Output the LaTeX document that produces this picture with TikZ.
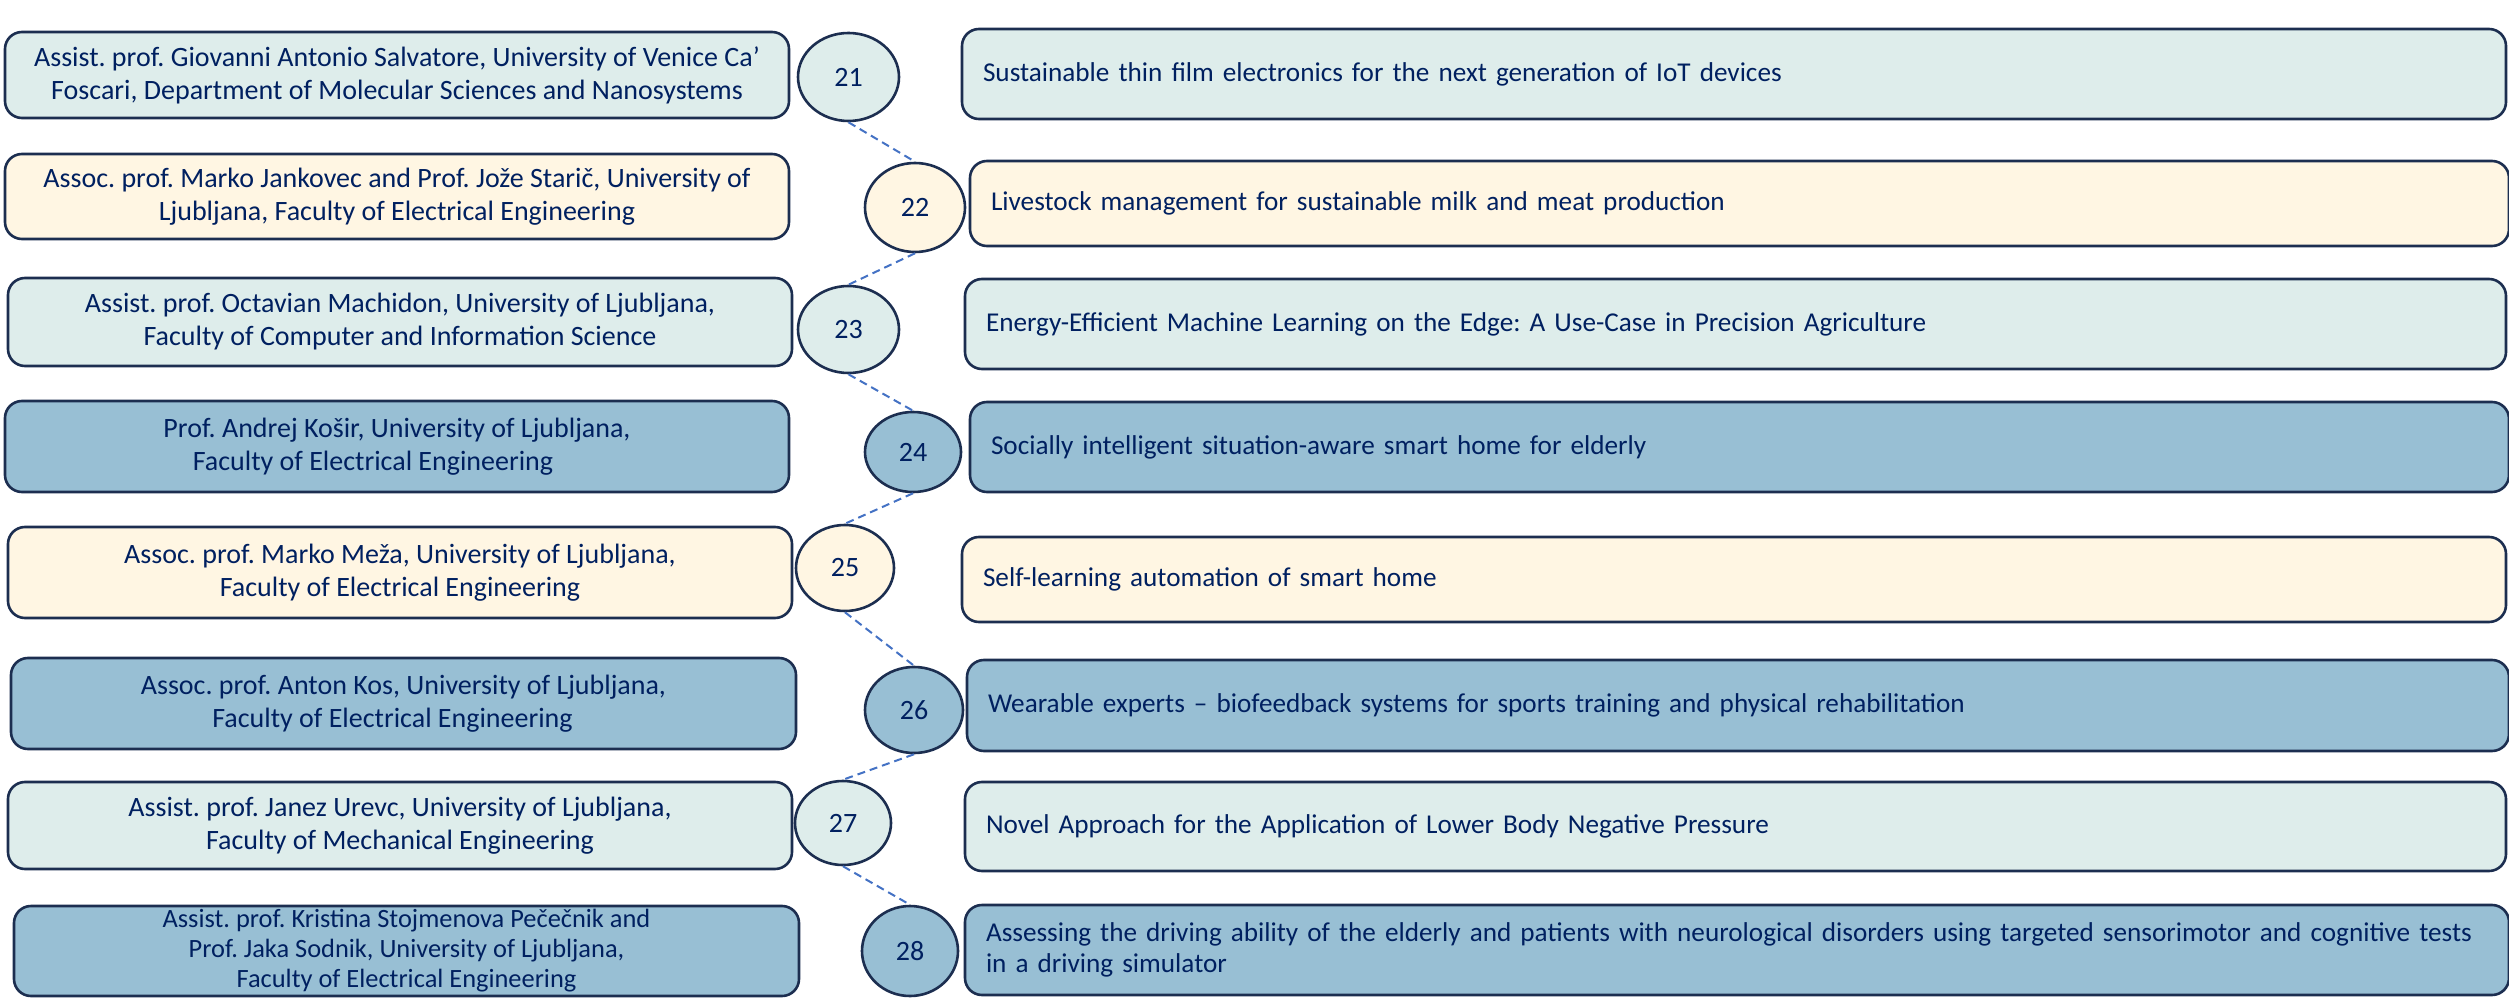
\documentclass[tikz,border=0pt]{standalone}
\usepackage{fontspec}
\setmainfont{Carlito}
\usetikzlibrary{shapes.geometric}
\definecolor{navy}{HTML}{002060}
\definecolor{edgec}{HTML}{1C2E50}
\definecolor{fillT}{HTML}{DEEDEB}
\definecolor{fillC}{HTML}{FFF6E3}
\definecolor{fillB}{HTML}{98BFD4}
\definecolor{dashc}{HTML}{4472C4}
\begin{document}
\frenchspacing
\begin{tikzpicture}[x=1pt,y=-1pt,
  box/.style={draw=edgec, line width=2.6pt, rounded corners=17pt, text=navy,
    font=\frenchspacing\fontsize{28}{33}\selectfont, inner sep=0pt},
  lbox/.style={box, align=center},
  rbox/.style={box, align=left, inner xsep=21pt, text width=#1-42pt, minimum width=#1,
    font=\frenchspacing\fontsize{27.2}{31.7}\selectfont},
  num/.style={ellipse, draw=edgec, line width=2.6pt, text=navy, inner sep=0pt,
    font=\fontsize{28}{33}\selectfont},
  link/.style={draw=dashc, line width=2pt, dash pattern=on 8pt off 5pt}
]
\useasboundingbox (0,0) rectangle (2509,1008);

% left boxes
\node[lbox, fill=fillT, minimum width=784pt, minimum height=86pt] (l21) at (397,75)
  {Assist. prof. Giovanni Antonio Salvatore, University of Venice Ca’\\Foscari, Department of Molecular Sciences and Nanosystems};
\node[lbox, fill=fillC, minimum width=784pt, minimum height=85pt] (l22) at (397,196.5)
  {Assoc. prof. Marko Jankovec and Prof. Jože Starič, University of\\Ljubljana, Faculty of Electrical Engineering};
\node[lbox, fill=fillT, minimum width=784pt, minimum height=88pt] (l23) at (400,322)
  {Assist. prof. Octavian Machidon, University of Ljubljana,\\Faculty of Computer and Information Science};
\node[lbox, fill=fillB, minimum width=784pt, minimum height=91pt] (l24) at (397,446.5)
  {Prof. Andrej Košir, University of Ljubljana,\\Faculty of Electrical Engineering\hspace*{48pt}};
\node[lbox, fill=fillC, minimum width=784pt, minimum height=91pt] (l25) at (400,572.5)
  {Assoc. prof. Marko Meža, University of Ljubljana,\\Faculty of Electrical Engineering};
\node[lbox, fill=fillB, minimum width=785pt, minimum height=91pt] (l26) at (403.5,703.5)
  {Assoc. prof. Anton Kos, University of Ljubljana,\\Faculty of Electrical Engineering\hspace*{22pt}};
\node[lbox, fill=fillT, minimum width=784pt, minimum height=87pt] (l27) at (400,825.5)
  {Assist. prof. Janez Urevc, University of Ljubljana,\\Faculty of Mechanical Engineering};
\node[lbox, fill=fillB, minimum width=785pt, minimum height=90pt, font=\frenchspacing\fontsize{26.4}{30}\selectfont] (l28) at (406.5,951)
  {Assist. prof. Kristina Stojmenova Pečečnik and\\Prof. Jaka Sodnik, University of Ljubljana,\\Faculty of Electrical Engineering};

% number ellipses
\node[num, fill=fillT, minimum width=101pt, minimum height=88pt] (n21) at (848.5,77) {21};
\node[num, fill=fillC, minimum width=100pt, minimum height=89pt] (n22) at (915,207.5) {22};
\node[num, fill=fillT, minimum width=101pt, minimum height=87pt] (n23) at (848.5,329.5) {23};
\node[num, fill=fillB, minimum width=96pt, minimum height=80pt] (n24) at (913,452) {24};
\node[num, fill=fillC, minimum width=98pt, minimum height=86pt] (n25) at (845,568) {25};
\node[num, fill=fillB, minimum width=98pt, minimum height=86pt] (n26) at (914,710) {26};
\node[num, fill=fillT, minimum width=96pt, minimum height=84pt] (n27) at (843,823) {27};
\node[num, fill=fillB, minimum width=96pt, minimum height=90pt] (n28) at (910,951) {28};

% right boxes
\node[rbox=1544pt, fill=fillT, minimum height=90pt] (r21) at (1734,74)
  {Sustainable thin film electronics for the next generation of IoT devices};
\node[rbox=1539pt, fill=fillC, minimum height=85pt] (r22) at (1739.5,203.5)
  {Livestock management for sustainable milk and meat production};
\node[rbox=1541pt, fill=fillT, minimum height=90pt] (r23) at (1735.5,324)
  {Energy-Efficient Machine Learning on the Edge: A Use-Case in Precision Agriculture};
\node[rbox=1539pt, fill=fillB, minimum height=90pt] (r24) at (1739.5,447)
  {Socially intelligent situation-aware smart home for elderly};
\node[rbox=1544pt, fill=fillC, minimum height=85pt] (r25) at (1734,579.5)
  {Self-learning automation of smart home};
\node[rbox=1542pt, fill=fillB, minimum height=91pt] (r26) at (1738,705.5)
  {Wearable experts – biofeedback systems for sports training and physical rehabilitation};
\node[rbox=1541pt, fill=fillT, minimum height=89pt] (r27) at (1735.5,826.5)
  {Novel Approach for the Application of Lower Body Negative Pressure};
\node[rbox=1544pt, fill=fillB, minimum height=90pt] (r28) at (1737,950)
  {\mbox{Assessing the driving ability of the elderly and patients with neurological disorders using targeted sensorimotor and cognitive tests}\\in a driving simulator};

% dashed links
\draw[link] (n21.south) -- (n22.north);
\draw[link] (n22.south) -- (n23.north);
\draw[link] (n23.south) -- (n24.north);
\draw[link] (n24.south) -- (n25.north);
\draw[link] (n25.south) -- (n26.north);
\draw[link] (n26.south) -- (n27.north);
\draw[link] (n27.south) -- (n28.north);
\end{tikzpicture}
\end{document}
